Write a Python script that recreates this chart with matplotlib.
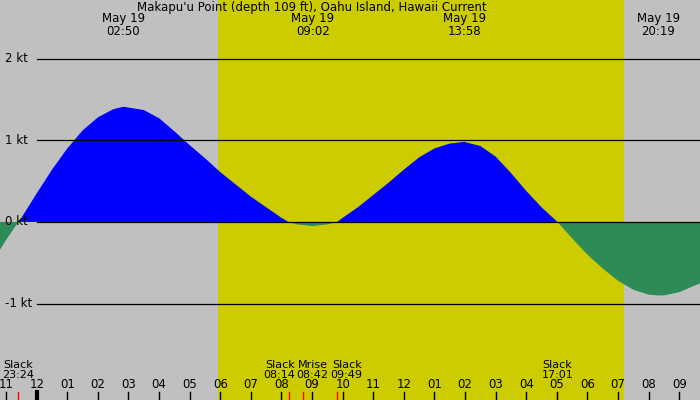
import matplotlib
matplotlib.use("Agg")
import matplotlib.pyplot as plt
import numpy as np

hours = [-1.2,-1.0,-0.6,-0.5,0,0.5,1,1.5,2,2.5,2.83,3.5,4,4.5,5,5.5,6,6.5,7,7.5,8,8.23,8.5,9.03,9.5,9.82,
         10,10.5,11,11.5,12,12.5,13,13.5,13.97,14.5,15,15.5,16,16.5,17.02,17.5,18,18.5,19,19.5,20,20.32,20.5,21,21.5,21.7]
speed = [-0.34,-0.22,0,0.05,0.35,0.64,0.9,1.12,1.28,1.38,1.41,1.37,1.27,1.11,0.94,0.78,0.61,0.46,0.31,0.18,0.05,0,-0.03,-0.05,-0.03,0,
         0.05,0.18,0.33,0.48,0.64,0.79,0.9,0.96,0.98,0.93,0.8,0.6,0.38,0.18,0,-0.2,-0.4,-0.57,-0.72,-0.83,-0.89,-0.9,-0.9,-0.86,-0.78,-0.75]
day_start, day_end = 5.92, 19.2
top_events = [(2.83,"May 19\n02:50"),(9.03,"May 19\n09:02"),(13.97,"May 19\n13:58"),(20.32,"May 19\n20:19")]
event_times = [-0.6, 8.23, 8.7, 9.82, 17.02]
event_label_pos = [-0.6, 7.94, 9.02, 10.13, 17.02]
event_labels = ["Slack\n23:24", "Slack\n08:14", "Mrise\n08:42", "Slack\n09:49", "Slack\n17:01"]
tick_hours = list(range(-1,22))
tick_labels = ["11","12","01","02","03","04","05","06","07","08","09","10","11","12","01","02","03","04","05","06","07","08","09"]
kt_levels = [2,1,0,-1]

fig = plt.figure(figsize=(7,4), dpi=100, facecolor="#c0c0c0")
ax = fig.add_axes([0,0,1,1])
ax.set_facecolor("#c0c0c0")
x0, x1 = -1.2, 21.68
ylo, yhi = -2.18, 2.717
ax.set_xlim(x0, x1); ax.set_ylim(ylo, yhi)
ax.axvspan(day_start, day_end, color="#cccc00", lw=0)
h = np.array(hours); s = np.array(speed)
ax.fill_between(h, 0, s, where=s>=0, interpolate=True, color="#0000ff", lw=0)
ax.fill_between(h, 0, s, where=s<=0, interpolate=True, color="#2e8b57", lw=0)
for k in kt_levels:
    ax.plot([0.0, x1], [k,k], color="black", lw=0.9)
    ax.text(-1.05, k, f"{k} kt", fontsize=8.5, va="center", ha="left")
ax.text(9.0, yhi-0.01, "Makapu'u Point (depth 109 ft), Oahu Island, Hawaii Current", ha="center", va="top", fontsize=8.5)
for t, lab in top_events:
    ax.text(t, yhi-0.15, lab, ha="center", va="top", fontsize=8.5, linespacing=0.95)
pk = (yhi-ylo)/400
for t, p, lab in zip(event_times, event_label_pos, event_labels):
    ax.text(p, ylo+20*pk, lab, ha="center", va="bottom", fontsize=8, linespacing=0.95)
    ax.plot([t,t],[ylo, ylo+8*pk], color="red", lw=1)
for t, lab in zip(tick_hours, tick_labels):
    ax.text(t, ylo+9*pk, lab, ha="center", va="bottom", fontsize=8.5)
    ax.plot([t,t],[ylo, ylo+8*pk], color="black", lw=3 if t==0 else 1)
ax.axis("off")
fig.savefig("out.png", dpi=100, facecolor="#c0c0c0")
